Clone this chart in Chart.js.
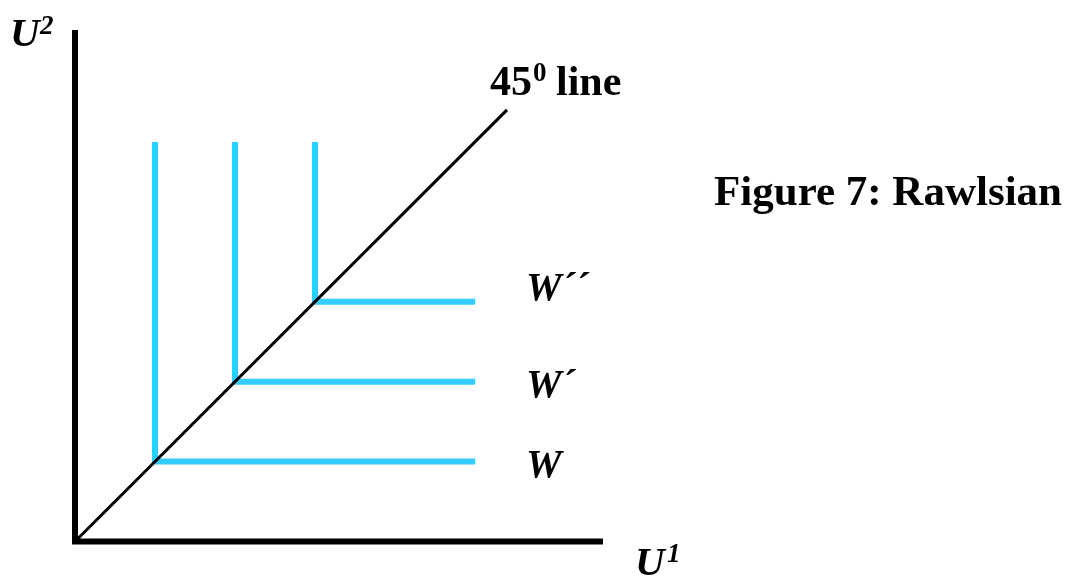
<!DOCTYPE html>
<html>
<head>
<meta charset="utf-8">
<script src="https://cdn.jsdelivr.net/npm/chart.js@4/dist/chart.umd.min.js"></script>
<style>
  html, body { margin: 0; padding: 0; background: #fff; }
  #wrap { width: 1068px; height: 578px; }
</style>
</head>
<body>
<div id="wrap"><canvas id="rawls" width="1068" height="578"></canvas></div>
<script>
// indifference levels (kink sits on the 45 degree line)
const levels = [1, 2, 3];
const levelLabels = ['W', 'W\u00b4', 'W\u00b4\u00b4'];
const armEnd = 5;       // where each L arm stops
const diagEnd = 5.4;    // end of the 45 degree line
const axisX = 6.6;
const axisY = 6.4;

const cyan = '#33ccff';

const datasets = [];
// axes
datasets.push({ data: [{x: 0, y: axisY}, {x: 0, y: 0}, {x: axisX, y: 0}], borderColor: '#000', borderWidth: 6 });
// 45 degree line
datasets.push({ data: [{x: 0, y: 0}, {x: diagEnd, y: diagEnd}], borderColor: '#000', borderWidth: 3 });
// Rawlsian L-shaped contours
levels.forEach(v => {
  datasets.push({
    data: [{x: v, y: armEnd}, {x: v, y: v}, {x: armEnd, y: v}],
    borderColor: cyan, borderWidth: 6
  });
});
datasets.forEach(d => {
  d.showLine = true; d.pointRadius = 0; d.fill = false; d.tension = 0;
  d.borderJoinStyle = 'miter'; d.clip = false;
});

const serif = '"Liberation Serif", "Times New Roman", serif';

const textPlugin = {
  id: 'texts',
  afterDraw(chart) {
    const ctx = chart.ctx;
    const xs = chart.scales.x, ys = chart.scales.y;
    ctx.save();
    ctx.fillStyle = '#000';
    ctx.textBaseline = 'alphabetic';
    // axis names
    ctx.font = 'italic bold 41px ' + serif;
    ctx.fillText('U', 10, 46);
    ctx.fillText('U', 635, 575);
    ctx.font = 'italic bold 27px ' + serif;
    ctx.fillText('2', 40, 34);
    ctx.fillText('1', 667, 562);
    // 45 degree line label
    ctx.font = 'bold 42px ' + serif;
    ctx.fillText('45', 490, 95);
    let w = ctx.measureText('45').width;
    ctx.font = 'bold 27px ' + serif;
    ctx.fillText('0', 490 + w + 1, 81);
    let w2 = ctx.measureText('0').width;
    ctx.font = 'bold 42px ' + serif;
    ctx.fillText(' line', 490 + w + w2, 95);
    // title
    ctx.font = 'bold 43px ' + serif;
    ctx.fillText('Figure 7: Rawlsian', 714, 205);
    // contour labels
    ctx.font = 'italic bold 40px ' + serif;
    const offs = [15, 15, -2];
    levels.forEach((v, i) => {
      ctx.fillText(levelLabels[i], xs.getPixelForValue(armEnd) + 51, ys.getPixelForValue(v) + offs[i]);
    });
    ctx.restore();
  }
};

new Chart(document.getElementById('rawls'), {
  type: 'scatter',
  data: { datasets },
  options: {
    responsive: false,
    animation: false,
    layout: { padding: { left: 75, right: 465, top: 30, bottom: 36.5 } },
    plugins: { legend: { display: false }, tooltip: { enabled: false } },
    scales: {
      x: { display: false, min: 0, max: axisX },
      y: { display: false, min: 0, max: axisY }
    }
  },
  plugins: [textPlugin]
});
</script>
</body>
</html>
